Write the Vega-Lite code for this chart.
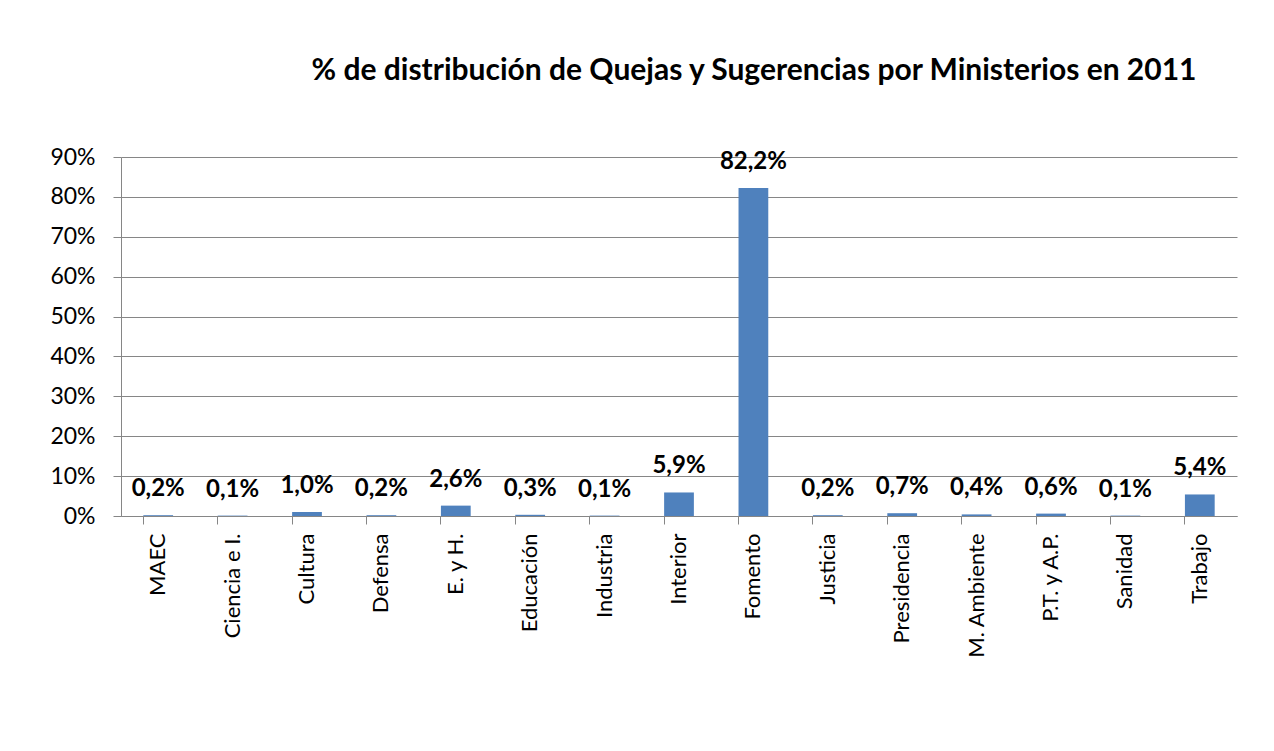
{
  "$schema": "https://vega.github.io/schema/vega-lite/v6.json",
  "autosize": "none",
  "width": 1116,
  "height": 359,
  "padding": {"left": 121, "top": 157, "right": 37, "bottom": 235},
  "background": "white",
  "config": {
    "locale": {"number": {"decimal": ",", "thousands": ".", "grouping": [3], "currency": ["", " €"]}},
    "font": "Lato",
    "view": {"stroke": null}
  },
  "title": {
    "text": "% de distribución de Quejas y Sugerencias  por Ministerios en 2011",
    "font": "Lato",
    "fontSize": 30,
    "fontWeight": "bold",
    "color": "black",
    "anchor": "middle",
    "frame": "group",
    "baseline": "middle",
    "dx": 75,
    "offset": 0,
    "dy": -45
  },
  "data": {
    "values": [
      {"ministerio": "MAEC", "pct": 0.002},
      {"ministerio": "Ciencia e I.", "pct": 0.001},
      {"ministerio": "Cultura", "pct": 0.010},
      {"ministerio": "Defensa", "pct": 0.002},
      {"ministerio": "E. y H.", "pct": 0.026},
      {"ministerio": "Educación", "pct": 0.003},
      {"ministerio": "Industria", "pct": 0.001},
      {"ministerio": "Interior", "pct": 0.059},
      {"ministerio": "Fomento", "pct": 0.822},
      {"ministerio": "Justicia", "pct": 0.002},
      {"ministerio": "Presidencia", "pct": 0.007},
      {"ministerio": "M. Ambiente", "pct": 0.004},
      {"ministerio": "P.T. y A.P.", "pct": 0.006},
      {"ministerio": "Sanidad", "pct": 0.001},
      {"ministerio": "Trabajo", "pct": 0.054}
    ]
  },
  "encoding": {
    "x": {
      "field": "ministerio",
      "type": "nominal",
      "sort": null,
      "scale": {"paddingInner": 0.6, "paddingOuter": 0.3},
      "axis": {
        "title": null,
        "labelAngle": -90,
        "labelAlign": "right",
        "labelBaseline": "middle",
        "labelFontSize": 22,
        "labelColor": "black",
        "labelPadding": 9,
        "tickSize": 8,
        "bandPosition": 0,
        "tickColor": "#868686",
        "domainColor": "#868686",
        "labelFont": "Lato"
      }
    },
    "y": {
      "field": "pct",
      "type": "quantitative",
      "scale": {"domain": [0, 0.9], "nice": false},
      "axis": {
        "title": null,
        "format": ".0%",
        "values": [0, 0.1, 0.2, 0.3, 0.4, 0.5, 0.6, 0.7, 0.8, 0.9],
        "labelFontSize": 23,
        "labelColor": "black",
        "labelPadding": 18,
        "tickSize": 8,
        "tickColor": "#868686",
        "domainColor": "#868686",
        "gridColor": "#868686",
        "gridOpacity": 1,
        "labelFont": "Lato"
      }
    }
  },
  "layer": [
    {"mark": {"type": "bar", "color": "#4F81BD"}},
    {
      "mark": {"type": "text", "fontWeight": "bold", "fontSize": 24, "baseline": "middle", "dy": -26, "color": "black", "font": "Lato"},
      "encoding": {"text": {"field": "pct", "type": "quantitative", "format": ".1%"}}
    }
  ]
}
